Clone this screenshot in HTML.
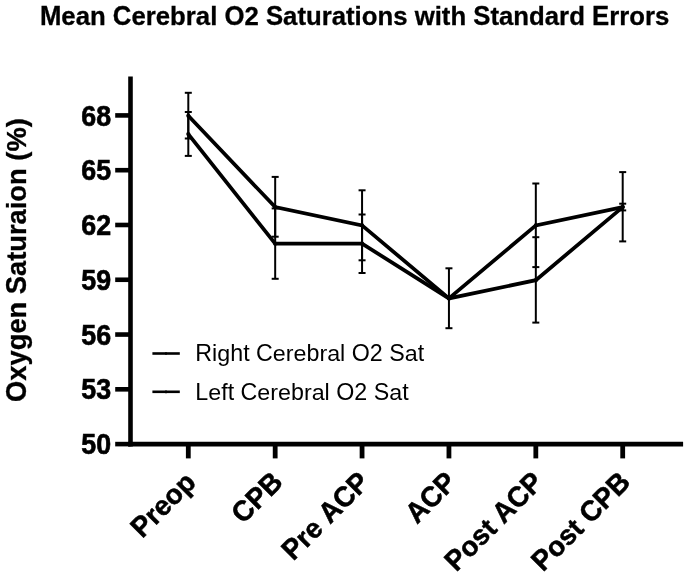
<!DOCTYPE html><html><head><meta charset="utf-8"><style>html,body{margin:0;padding:0;background:#fff;}svg{display:block;will-change:transform;}text{font-family:"Liberation Sans",sans-serif;fill:#000;font-kerning:none;}</style></head><body>
<svg width="688" height="575" viewBox="0 0 688 575"><rect width="688" height="575" fill="#fff"/><g>
<g transform="translate(39.9,24.6)" font-size="25.74" font-weight="bold" stroke="#000" stroke-width="0.3"><text transform="translate(0.000,0) scale(1,1.0405)">M</text><text transform="translate(21.442,0) scale(1,1.0100)">e</text><text transform="translate(35.757,0) scale(1,1.0100)">a</text><text transform="translate(50.072,0) scale(1,1.0100)">n</text><text transform="translate(72.947,0) scale(1,1.0405)">C</text><text transform="translate(91.535,0) scale(1,1.0100)">e</text><text transform="translate(105.851,0) scale(1,1.0100)">r</text><text transform="translate(115.868,0) scale(1,1.0100)">e</text><text transform="translate(130.183,0) scale(1,0.9900)">b</text><text transform="translate(145.906,0) scale(1,1.0100)">r</text><text transform="translate(155.923,0) scale(1,1.0100)">a</text><text transform="translate(170.238,0) scale(1,0.9900)">l</text><text transform="translate(184.541,0) scale(1,1.0405)">O</text><text transform="translate(204.563,0) scale(1,1.0350)">2</text><text transform="translate(226.029,0) scale(1,1.0405)">S</text><text transform="translate(243.198,0) scale(1,1.0100)">a</text><text transform="translate(257.513,0) scale(1,0.9900)">t</text><text transform="translate(266.085,0) scale(1,1.0100)">u</text><text transform="translate(281.808,0) scale(1,1.0100)">r</text><text transform="translate(291.825,0) scale(1,1.0100)">a</text><text transform="translate(306.140,0) scale(1,0.9900)">t</text><text transform="translate(314.712,0) scale(1,0.9900)">i</text><text transform="translate(321.863,0) scale(1,1.0100)">o</text><text transform="translate(337.586,0) scale(1,1.0100)">n</text><text transform="translate(353.309,0) scale(1,1.0100)">s</text><text transform="translate(374.776,0) scale(1,1.0100)">w</text><text transform="translate(394.797,0) scale(1,0.9900)">i</text><text transform="translate(401.949,0) scale(1,0.9900)">t</text><text transform="translate(410.520,0) scale(1,0.9900)">h</text><text transform="translate(433.395,0) scale(1,1.0405)">S</text><text transform="translate(450.563,0) scale(1,0.9900)">t</text><text transform="translate(459.135,0) scale(1,1.0100)">a</text><text transform="translate(473.450,0) scale(1,1.0100)">n</text><text transform="translate(489.173,0) scale(1,0.9900)">d</text><text transform="translate(504.896,0) scale(1,1.0100)">a</text><text transform="translate(519.211,0) scale(1,1.0100)">r</text><text transform="translate(529.228,0) scale(1,0.9900)">d</text><text transform="translate(552.103,0) scale(1,1.0405)">E</text><text transform="translate(569.271,0) scale(1,1.0100)">r</text><text transform="translate(579.288,0) scale(1,1.0100)">r</text><text transform="translate(589.305,0) scale(1,1.0100)">o</text><text transform="translate(605.028,0) scale(1,1.0100)">r</text><text transform="translate(615.045,0) scale(1,1.0100)">s</text></g>
<g transform="translate(25.5,401.9) rotate(-90)" font-size="27.3" font-weight="bold" stroke="#000" stroke-width="0.3"><text transform="translate(0.000,0) scale(1,1.0900)">O</text><text transform="translate(21.235,0) scale(1,1.0000)">x</text><text transform="translate(36.418,0) scale(1,1.0000)">y</text><text transform="translate(51.601,0) scale(1,1.0000)">g</text><text transform="translate(68.277,0) scale(1,1.0000)">e</text><text transform="translate(83.460,0) scale(1,1.0000)">n</text><text transform="translate(107.720,0) scale(1,1.0900)">S</text><text transform="translate(125.929,0) scale(1,1.0000)">a</text><text transform="translate(141.112,0) scale(1,1.0000)">t</text><text transform="translate(150.203,0) scale(1,1.0000)">u</text><text transform="translate(166.879,0) scale(1,1.0000)">r</text><text transform="translate(177.503,0) scale(1,1.0000)">a</text><text transform="translate(192.686,0) scale(1,1.0000)">i</text><text transform="translate(200.271,0) scale(1,1.0000)">o</text><text transform="translate(216.947,0) scale(1,1.0000)">n</text><text transform="translate(241.208,0) scale(1,1.0000)">(</text><text transform="translate(250.299,0) scale(1,1.0000)">%</text><text transform="translate(274.573,0) scale(1,1.0000)">)</text></g>
<g stroke="#000" fill="none" stroke-linecap="butt">
<line x1="130.5" y1="76.4" x2="130.5" y2="446.6" stroke-width="4.6"/>
<line x1="128.2" y1="444.1" x2="683.1" y2="444.1" stroke-width="4.9"/>
<line x1="115.2" y1="444.10" x2="130.5" y2="444.10" stroke-width="4.6"/>
<line x1="115.2" y1="389.32" x2="130.5" y2="389.32" stroke-width="4.6"/>
<line x1="115.2" y1="334.54" x2="130.5" y2="334.54" stroke-width="4.6"/>
<line x1="115.2" y1="279.76" x2="130.5" y2="279.76" stroke-width="4.6"/>
<line x1="115.2" y1="224.98" x2="130.5" y2="224.98" stroke-width="4.6"/>
<line x1="115.2" y1="170.20" x2="130.5" y2="170.20" stroke-width="4.6"/>
<line x1="115.2" y1="115.42" x2="130.5" y2="115.42" stroke-width="4.6"/>
<line x1="188.30" y1="444.1" x2="188.30" y2="458.4" stroke-width="4.8"/>
<line x1="275.18" y1="444.1" x2="275.18" y2="458.4" stroke-width="4.8"/>
<line x1="362.06" y1="444.1" x2="362.06" y2="458.4" stroke-width="4.8"/>
<line x1="448.94" y1="444.1" x2="448.94" y2="458.4" stroke-width="4.8"/>
<line x1="535.82" y1="444.1" x2="535.82" y2="458.4" stroke-width="4.8"/>
<line x1="622.70" y1="444.1" x2="622.70" y2="458.4" stroke-width="4.8"/>
</g>
<text transform="translate(111.1,454.20) scale(1,1.07)" font-size="26.8" font-weight="bold" text-anchor="end" stroke="#000" stroke-width="0.6">50</text>
<text transform="translate(111.1,399.42) scale(1,1.07)" font-size="26.8" font-weight="bold" text-anchor="end" stroke="#000" stroke-width="0.6">53</text>
<text transform="translate(111.1,344.64) scale(1,1.07)" font-size="26.8" font-weight="bold" text-anchor="end" stroke="#000" stroke-width="0.6">56</text>
<text transform="translate(111.1,289.86) scale(1,1.07)" font-size="26.8" font-weight="bold" text-anchor="end" stroke="#000" stroke-width="0.6">59</text>
<text transform="translate(111.1,235.08) scale(1,1.07)" font-size="26.8" font-weight="bold" text-anchor="end" stroke="#000" stroke-width="0.6">62</text>
<text transform="translate(111.1,180.30) scale(1,1.07)" font-size="26.8" font-weight="bold" text-anchor="end" stroke="#000" stroke-width="0.6">65</text>
<text transform="translate(111.1,125.52) scale(1,1.07)" font-size="26.8" font-weight="bold" text-anchor="end" stroke="#000" stroke-width="0.6">68</text>
<g transform="translate(197.30,483.8) rotate(-45)" font-size="27.5" font-weight="bold" stroke="#000" stroke-width="0.5"><text transform="translate(-77.935,0) scale(1,1.0405)">P</text><text transform="translate(-59.592,0) scale(1,1.0100)">r</text><text transform="translate(-48.890,0) scale(1,1.0100)">e</text><text transform="translate(-33.596,0) scale(1,1.0100)">o</text><text transform="translate(-16.798,0) scale(1,1.0100)">p</text></g>
<g transform="translate(284.18,483.8) rotate(-45)" font-size="27.5" font-weight="bold" stroke="#000" stroke-width="0.5"><text transform="translate(-58.062,0) scale(1,1.0405)">C</text><text transform="translate(-38.202,0) scale(1,1.0405)">P</text><text transform="translate(-19.860,0) scale(1,1.0405)">B</text></g>
<g transform="translate(371.06,483.8) rotate(-45)" font-size="27.5" font-weight="bold" stroke="#000" stroke-width="0.5"><text transform="translate(-110.040,0) scale(1,1.0405)">P</text><text transform="translate(-91.698,0) scale(1,1.0100)">r</text><text transform="translate(-80.996,0) scale(1,1.0100)">e</text><text transform="translate(-58.062,0) scale(1,1.0405)">A</text><text transform="translate(-38.202,0) scale(1,1.0405)">C</text><text transform="translate(-18.342,0) scale(1,1.0405)">P</text></g>
<g transform="translate(457.94,483.8) rotate(-45)" font-size="27.5" font-weight="bold" stroke="#000" stroke-width="0.5"><text transform="translate(-58.062,0) scale(1,1.0405)">A</text><text transform="translate(-38.202,0) scale(1,1.0405)">C</text><text transform="translate(-18.342,0) scale(1,1.0405)">P</text></g>
<g transform="translate(544.82,483.8) rotate(-45)" font-size="27.5" font-weight="bold" stroke="#000" stroke-width="0.5"><text transform="translate(-125.294,0) scale(1,1.0405)">P</text><text transform="translate(-106.952,0) scale(1,1.0100)">o</text><text transform="translate(-90.154,0) scale(1,1.0100)">s</text><text transform="translate(-74.860,0) scale(1,0.9900)">t</text><text transform="translate(-58.062,0) scale(1,1.0405)">A</text><text transform="translate(-38.202,0) scale(1,1.0405)">C</text><text transform="translate(-18.342,0) scale(1,1.0405)">P</text></g>
<g transform="translate(631.70,483.8) rotate(-45)" font-size="27.5" font-weight="bold" stroke="#000" stroke-width="0.5"><text transform="translate(-125.294,0) scale(1,1.0405)">P</text><text transform="translate(-106.952,0) scale(1,1.0100)">o</text><text transform="translate(-90.154,0) scale(1,1.0100)">s</text><text transform="translate(-74.860,0) scale(1,0.9900)">t</text><text transform="translate(-58.062,0) scale(1,1.0405)">C</text><text transform="translate(-38.202,0) scale(1,1.0405)">P</text><text transform="translate(-19.860,0) scale(1,1.0405)">B</text></g>
<g stroke="#000" fill="none" stroke-width="2">
<line x1="188.30" y1="92.8" x2="188.30" y2="138.5"/>
<line x1="184.80" y1="92.8" x2="191.80" y2="92.8"/>
<line x1="184.80" y1="138.5" x2="191.80" y2="138.5"/>
<line x1="188.30" y1="112.0" x2="188.30" y2="155.9"/>
<line x1="184.80" y1="112.0" x2="191.80" y2="112.0"/>
<line x1="184.80" y1="155.9" x2="191.80" y2="155.9"/>
<line x1="275.18" y1="176.9" x2="275.18" y2="236.7"/>
<line x1="271.68" y1="176.9" x2="278.68" y2="176.9"/>
<line x1="271.68" y1="236.7" x2="278.68" y2="236.7"/>
<line x1="275.18" y1="208.4" x2="275.18" y2="278.8"/>
<line x1="271.68" y1="208.4" x2="278.68" y2="208.4"/>
<line x1="271.68" y1="278.8" x2="278.68" y2="278.8"/>
<line x1="362.06" y1="190.3" x2="362.06" y2="260.3"/>
<line x1="358.56" y1="190.3" x2="365.56" y2="190.3"/>
<line x1="358.56" y1="260.3" x2="365.56" y2="260.3"/>
<line x1="362.06" y1="214.5" x2="362.06" y2="273.0"/>
<line x1="358.56" y1="214.5" x2="365.56" y2="214.5"/>
<line x1="358.56" y1="273.0" x2="365.56" y2="273.0"/>
<line x1="448.94" y1="268.3" x2="448.94" y2="328.2"/>
<line x1="445.44" y1="268.3" x2="452.44" y2="268.3"/>
<line x1="445.44" y1="328.2" x2="452.44" y2="328.2"/>
<line x1="535.82" y1="183.5" x2="535.82" y2="267.1"/>
<line x1="532.32" y1="183.5" x2="539.32" y2="183.5"/>
<line x1="532.32" y1="267.1" x2="539.32" y2="267.1"/>
<line x1="535.82" y1="237.2" x2="535.82" y2="322.6"/>
<line x1="532.32" y1="237.2" x2="539.32" y2="237.2"/>
<line x1="532.32" y1="322.6" x2="539.32" y2="322.6"/>
<line x1="622.70" y1="172.1" x2="622.70" y2="241.4"/>
<line x1="619.20" y1="172.1" x2="626.20" y2="172.1"/>
<line x1="619.20" y1="241.4" x2="626.20" y2="241.4"/>
<line x1="622.70" y1="203.7" x2="622.70" y2="210.4"/>
<line x1="619.20" y1="203.7" x2="626.20" y2="203.7"/>
<line x1="619.20" y1="210.4" x2="626.20" y2="210.4"/>
</g>
<polyline points="188.30,115.82 275.18,207.12 362.06,225.38 448.94,298.42 535.82,225.38 622.70,207.12" fill="none" stroke="#000" stroke-width="3.75" stroke-linejoin="miter"/>
<polyline points="188.30,134.08 275.18,243.64 362.06,243.64 448.94,298.42 535.82,280.16 622.70,207.12" fill="none" stroke="#000" stroke-width="3.75" stroke-linejoin="miter"/>
<circle cx="188.30" cy="115.82" r="2.1"/>
<circle cx="275.18" cy="207.12" r="2.1"/>
<circle cx="362.06" cy="225.38" r="2.1"/>
<circle cx="448.94" cy="298.42" r="2.1"/>
<circle cx="535.82" cy="225.38" r="2.1"/>
<circle cx="622.70" cy="207.12" r="2.1"/>
<circle cx="188.30" cy="134.08" r="2.1"/>
<circle cx="275.18" cy="243.64" r="2.1"/>
<circle cx="362.06" cy="243.64" r="2.1"/>
<circle cx="448.94" cy="298.42" r="2.1"/>
<circle cx="535.82" cy="280.16" r="2.1"/>
<circle cx="622.70" cy="207.12" r="2.1"/>
<g stroke="#000" stroke-width="2.6"><line x1="152.4" y1="353.5" x2="179.8" y2="353.5"/><line x1="152.4" y1="391.8" x2="179.8" y2="391.8"/></g>
<rect x="165.4" y="352" width="1.2" height="3"/><rect x="165.4" y="390.3" width="1.2" height="3"/>
<g transform="translate(195.3,361)" font-size="23.26" font-weight="normal"><text transform="translate(0.000,0) scale(1,1.0405)">R</text><text transform="translate(16.798,0) scale(1,0.9900)">i</text><text transform="translate(21.965,0) scale(1,0.9750)">g</text><text transform="translate(34.901,0) scale(1,0.9900)">h</text><text transform="translate(47.837,0) scale(1,0.9900)">t</text><text transform="translate(60.762,0) scale(1,1.0405)">C</text><text transform="translate(77.560,0) scale(1,0.9750)">e</text><text transform="translate(90.496,0) scale(1,0.9750)">r</text><text transform="translate(98.242,0) scale(1,0.9750)">e</text><text transform="translate(111.178,0) scale(1,0.9900)">b</text><text transform="translate(124.114,0) scale(1,0.9750)">r</text><text transform="translate(131.860,0) scale(1,0.9750)">a</text><text transform="translate(144.796,0) scale(1,0.9900)">l</text><text transform="translate(156.426,0) scale(1,1.0405)">O</text><text transform="translate(174.518,0) scale(1,1.0350)">2</text><text transform="translate(193.917,0) scale(1,1.0405)">S</text><text transform="translate(209.431,0) scale(1,0.9750)">a</text><text transform="translate(222.367,0) scale(1,0.9900)">t</text></g>
<g transform="translate(195.3,400.2)" font-size="23.26" font-weight="normal"><text transform="translate(0.000,0) scale(1,1.0405)">L</text><text transform="translate(12.936,0) scale(1,0.9750)">e</text><text transform="translate(25.872,0) scale(1,0.9900)">f</text><text transform="translate(32.335,0) scale(1,0.9900)">t</text><text transform="translate(45.259,0) scale(1,1.0405)">C</text><text transform="translate(62.057,0) scale(1,0.9750)">e</text><text transform="translate(74.993,0) scale(1,0.9750)">r</text><text transform="translate(82.739,0) scale(1,0.9750)">e</text><text transform="translate(95.675,0) scale(1,0.9900)">b</text><text transform="translate(108.611,0) scale(1,0.9750)">r</text><text transform="translate(116.357,0) scale(1,0.9750)">a</text><text transform="translate(129.293,0) scale(1,0.9900)">l</text><text transform="translate(140.923,0) scale(1,1.0405)">O</text><text transform="translate(159.015,0) scale(1,1.0350)">2</text><text transform="translate(178.414,0) scale(1,1.0405)">S</text><text transform="translate(193.928,0) scale(1,0.9750)">a</text><text transform="translate(206.864,0) scale(1,0.9900)">t</text></g>
</g></svg></body></html>
